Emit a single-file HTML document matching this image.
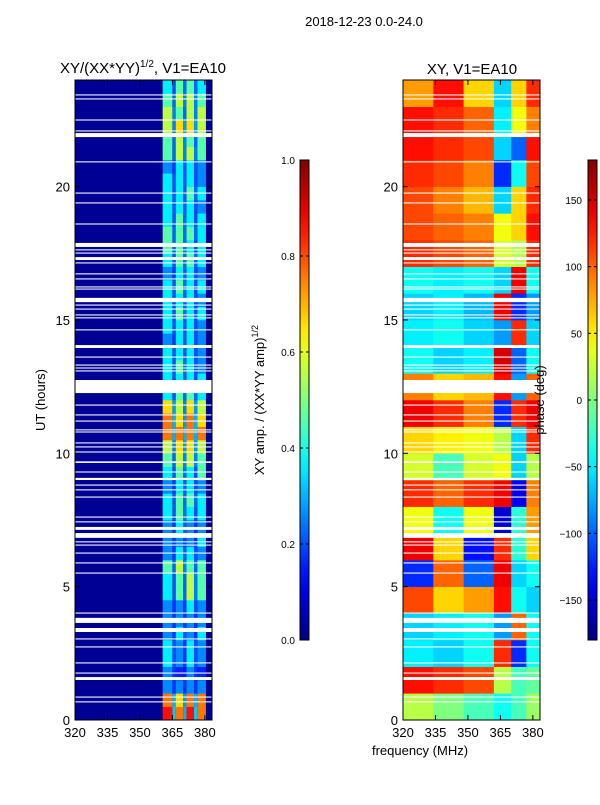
<!DOCTYPE html>
<html><head><meta charset="utf-8">
<style>
body{margin:0;background:#fff;}
svg text{font-family:"Liberation Sans",sans-serif;fill:#000;}
</style></head>
<body>
<svg id="fig" width="600" height="800" viewBox="0 0 600 800" xmlns="http://www.w3.org/2000/svg">
<rect width="600" height="800" fill="#fff"/>
<text x="364" y="26" font-size="13" text-anchor="middle">2018-12-23 0.0-24.0</text>
<text x="143" y="73" font-size="15" text-anchor="middle">XY/(XX*YY)<tspan font-size="10" dy="-6">1/2</tspan><tspan dy="6">, V1=EA10</tspan></text>
<text x="472" y="74" font-size="15" text-anchor="middle">XY, V1=EA10</text>
<text x="45" y="400" font-size="13" text-anchor="middle" transform="rotate(-90 45 400)">UT (hours)</text>
<text x="420" y="755" font-size="13" text-anchor="middle">frequency (MHz)</text>
<text x="264" y="400" font-size="13" text-anchor="middle" transform="rotate(-90 264 400)">XY amp. / (XX*YY amp)<tspan font-size="9" dy="-6">1/2</tspan></text>
<g id="gl"></g>
<g id="gr"></g>
<g id="axes"></g>
<text x="544" y="400" font-size="13" text-anchor="middle" transform="rotate(-90 544 400)">phase (deg)</text>
</svg>
<script>
// ---- data ----
const hourRows = 48; // half-hour rows for amplitude
const ampBandEdges = [360.5,365,366.5,370,371.5,375,376.5,380.5];
const ampRows = ["9898","8788","3333","3232","4343","4343","3434","3333","3343","4565","4565","5655","3443","3334","3433","4544","4554","3443","4545","5665","6776","8888","8787","7676","4554","4444","4543","4443","3443","4443","4544","4443","4544","3443","4554","5544","5554","4544","4443","4454","4443","3443","5665","5655","6776","6566","5665","4554"];
const phaseColEdges = [320,334,348,362,370,377,383.3];
const phaseRows = [
[20,0,-20,-40,-20,10],[130,120,110,20,-20,-10],[-50,-60,-40,120,-120,-40],[-60,-50,-40,-80,100,-40],
[110,60,80,130,-40,-60],[-120,100,-100,140,-60,-40],[140,60,-130,120,-30,60],[40,-40,40,-150,-30,80],
[120,100,120,140,-140,90],[30,-20,30,40,-60,20],[60,50,40,20,-60,120],[140,120,90,-120,120,140],
[90,60,70,130,-80,100],[-40,-60,-50,150,-100,-40],[-50,-40,-60,-80,120,-60],[-60,-50,-70,140,-120,-80],
[-40,-50,-40,-60,140,-40],[120,110,100,30,20,120],[110,100,90,40,60,130],[110,90,70,-60,60,120],
[120,110,90,-120,-40,110],[130,120,110,-60,-100,130],[130,120,100,-50,40,90],[80,130,60,-60,60,120]];
const gaps = [[23.42,23.46],[23.27,23.31],[22.48,22.52],[22.07,22.11],[21.86,22.01],[20.91,20.95],[19.74,19.78],[19.37,19.41],[18.58,18.62],[17.74,17.89],[17.61,17.65],[17.49,17.53],[17.25,17.36],[17.12,17.16],[16.71,16.75],[16.52,16.56],[16.22,16.26],[16.14,16.18],[15.67,15.83],[15.54,15.58],[15.39,15.43],[15.17,15.21],[15.06,15.1],[14.61,14.65],[13.95,14.06],[13.59,13.63],[13.29,13.33],[13.18,13.22],[13.07,13.11],[12.26,12.75],
[11.79,11.83],[11.42,11.46],[11.19,11.23],[10.86,10.9],[10.78,10.82],[10.37,10.41],[10.22,10.26],[10.03,10.07],[9.64,9.7],[9.28,9.32],[9.0,9.08],[8.79,8.83],[8.61,8.65],[8.34,8.38],[7.59,7.63],[7.41,7.45],[7.13,7.24],[6.83,7.01],[6.66,6.7],[6.54,6.58],[6.24,6.28],[5.87,5.91],[5.49,5.53],[3.99,4.03],[3.64,3.83],[3.3,3.45],[3.02,3.06],[2.72,2.76],[2.12,2.16],[1.74,1.78],[1.5,1.61],[0.84,0.88],[0.66,0.7]];
const freqTicks = [320,335,350,365,380];
const hourTicks = [0,5,10,15,20];
const ampTicks = [0.0,0.2,0.4,0.6,0.8,1.0];
const phaseTicks = [-150,-100,-50,0,50,100,150];

// ---- scales ----
const NS="http://www.w3.org/2000/svg";
const F0=320,F1=383.3,T0=80,T1=720;
const xL=f=>75+(f-F0)*(137/(F1-F0));
const xR=f=>403+(f-F0)*(137/(F1-F0));
const yH=h=>T1-h*(T1-T0)/24;
function jet(v){v=Math.max(0,Math.min(1,v));
 const c=x=>Math.round(255*Math.max(0,Math.min(1,x)));
 const r=c(1.5-Math.abs(4*v-3)),g=c(1.5-Math.abs(4*v-2)),b=c(1.5-Math.abs(4*v-1));
 return `rgb(${r},${g},${b})`;}
function el(tag,attrs,parent){const e=document.createElementNS(NS,tag);for(const k in attrs)e.setAttribute(k,attrs[k]);parent.appendChild(e);return e;}
const gl=document.getElementById('gl'),gr=document.getElementById('gr'),ax=document.getElementById('axes');

// amplitude heatmap
el('rect',{x:75,y:80,width:137,height:640,fill:jet(0.02)},gl);
ampRows.forEach((row,i)=>{
 const h0=i*24/hourRows,h1=(i+1)*24/hourRows;
 const y=yH(h1),hh=yH(h0)-yH(h1);
 for(let b=0;b<4;b++){
  const f0=ampBandEdges[b*2],f1=ampBandEdges[b*2+1];
  const r=el('rect',{x:xL(f0),y:y,width:xL(f1)-xL(f0),height:hh+0.3,fill:jet(+row[b]/10-0.04)},gl);
  
  
 }
 for(let b=0;b<3;b++){
  const f0=ampBandEdges[b*2+1],f1=ampBandEdges[b*2+2];
  const r=el('rect',{x:xL(f0),y:y,width:xL(f1)-xL(f0),height:hh+0.3,fill:jet(+row[b]/40+0.1)},gl);
  
  
 }
});
// phase heatmap
phaseRows.forEach((row,i)=>{
 const y=yH(i+1),hh=yH(i)-yH(i+1);
 row.forEach((p,j)=>{
  const r=el('rect',{x:xR(phaseColEdges[j]),y:y,width:xR(phaseColEdges[j+1])-xR(phaseColEdges[j])+0.3,height:hh+0.3,fill:jet((p+180)/360)},gr);
  
  
 });
});
// gaps
gaps.forEach(g=>{
 [[75,gl],[403,gr]].forEach(([x0,p])=>{
  const r=el('rect',{x:x0,y:yH(g[1]),width:137,height:Math.max(1,yH(g[0])-yH(g[1])),fill:'#fff'},p);
  
  
 });
});
// axes frames & ticks
[[75,xL],[403,xR]].forEach(([x0,xs])=>{
 el('rect',{x:x0,y:80,width:137,height:640,fill:'none',stroke:'#000','stroke-width':1},ax);
 freqTicks.forEach(f=>{
  el('line',{x1:xs(f),x2:xs(f),y1:720,y2:715,stroke:'#000'},ax);
  el('line',{x1:xs(f),x2:xs(f),y1:80,y2:85,stroke:'#000'},ax);
  const t=el('text',{x:xs(f),y:737,'font-size':13,'text-anchor':'middle'},ax);t.textContent=f;
  
  
 });
 hourTicks.forEach(h=>{
  el('line',{x1:x0,x2:x0+5,y1:yH(h),y2:yH(h),stroke:'#000'},ax);
  el('line',{x1:x0+137,x2:x0+132,y1:yH(h),y2:yH(h),stroke:'#000'},ax);
  const t=el('text',{x:x0-5,y:yH(h)+5,'font-size':13,'text-anchor':'end'},ax);t.textContent=h;
  
  
 });
});
// colorbars
const defs=el('defs',{},ax);
const lg=el('linearGradient',{id:'jetg',x1:0,y1:1,x2:0,y2:0},defs);
for(let i=0;i<=20;i++)el('stop',{offset:i/20,'stop-color':jet(i/20)},lg);
[300,588].forEach(x=>{
 const r=el('rect',{x:x,y:160,width:9,height:480,fill:'url(#jetg)',stroke:'#000','stroke-width':1},ax);
 
 
});
ampTicks.forEach(v=>{
 const y=640-v*480;
 el('line',{x1:300,x2:303,y1:y,y2:y,stroke:'#000'},ax);
 el('line',{x1:309,x2:306,y1:y,y2:y,stroke:'#000'},ax);
 const t=el('text',{x:295,y:y+4,'font-size':10,'text-anchor':'end'},ax);t.textContent=v.toFixed(1);
 
 
});
phaseTicks.forEach(v=>{
 const y=400-v*480/360;
 el('line',{x1:588,x2:591,y1:y,y2:y,stroke:'#000'},ax);
 el('line',{x1:597,x2:594,y1:y,y2:y,stroke:'#000'},ax);
 const t=el('text',{x:582,y:y+4,'font-size':10,'text-anchor':'end'},ax);t.textContent=v<0?'\u2212'+(-v):v;
 
 
});
</script>
</body></html>
